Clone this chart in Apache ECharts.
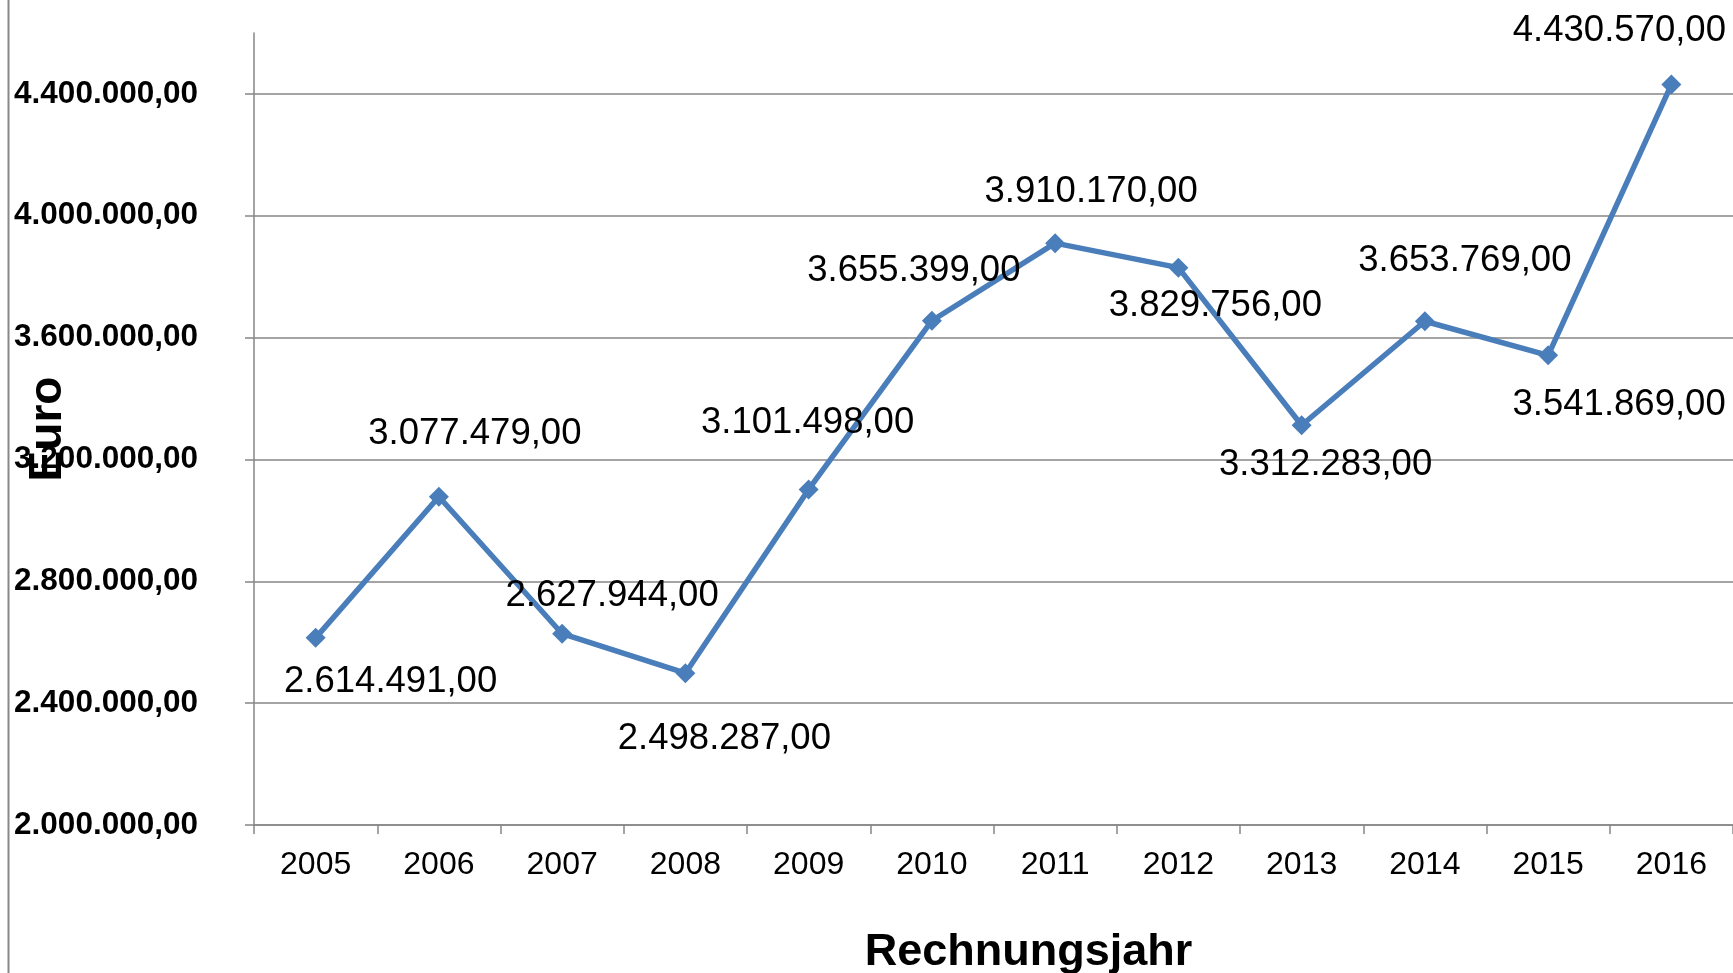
<!DOCTYPE html>
<html>
<head>
<meta charset="utf-8">
<script src="https://cdn.jsdelivr.net/npm/echarts@6/dist/echarts.min.js"></script>
<style>
html,body{margin:0;padding:0;background:#fff;}
#chart{width:1733px;height:973px;}
</style>
</head>
<body>
<div id="chart"></div>
<script>
const years = ['2005','2006','2007','2008','2009','2010','2011','2012','2013','2014','2015','2016'];
const euroValues = [2614491, 3077479, 2627944, 2498287, 3101498, 3655399, 3910170, 3829756, 3312283, 3653769, 3541869, 4430570];
const yTickValues = [2000000, 2400000, 2800000, 3200000, 3600000, 4000000, 4400000];
const labelOffsets = [[75,44],[36,-63],[50,-38],[39,66],[-1,-67],[-18,-50],[36,-51],[37,38],[24,40],[40,-60],[71,50],[-52,-54]];

function de(v){
  const s = Math.round(v).toString();
  return s.replace(/\B(?=(\d{3})+(?!\d))/g, '.') + ',00';
}

const FONT = '"Liberation Sans", Arial, sans-serif';
const GREY = '#868686';

const seriesData = euroValues.map((v, i) => ({
  value: v,
  label: { offset: labelOffsets[i] }
}));

const chart = echarts.init(document.getElementById('chart'), null, {renderer: 'canvas'});
chart.setOption({
  animation: false,
  backgroundColor: '#ffffff',
  grid: { left: 254, right: 0, top: 33, bottom: 148, containLabel: false, outerBoundsMode: 'none' },
  xAxis: {
    type: 'category',
    data: years,
    boundaryGap: true,
    axisLine: { show: true, lineStyle: { color: GREY, width: 1.5 } },
    axisTick: { show: true, alignWithLabel: false, length: 9, lineStyle: { color: GREY, width: 1.5 } },
    axisLabel: { color: '#000', fontFamily: FONT, fontSize: 32, margin: 24 },
    splitLine: { show: false },
    name: 'Rechnungsjahr',
    nameLocation: 'middle',
    nameGap: 105,
    nameMoveOverlap: false,
    nameTextStyle: { color: '#000', fontFamily: FONT, fontSize: 45, fontWeight: 'bold', padding: [0, 0, 0, 70] }
  },
  yAxis: {
    type: 'value',
    min: 2000000,
    max: 4600000,
    interval: 400000,
    axisLine: { show: true, lineStyle: { color: GREY, width: 1.5 } },
    axisTick: { show: true, length: 9, lineStyle: { color: GREY, width: 1.5 }, customValues: yTickValues },
    axisLabel: { color: '#000', fontFamily: FONT, fontSize: 31.5, fontWeight: 'bold', margin: 56, customValues: yTickValues, formatter: v => de(v) },
    splitLine: { show: true, lineStyle: { color: GREY, width: 1.5 } },
    name: 'Euro',
    nameLocation: 'middle',
    nameRotate: 90,
    nameGap: 183,
    nameMoveOverlap: false,
    nameTextStyle: { color: '#000', fontFamily: FONT, fontSize: 46, fontWeight: 'bold' }
  },
  series: [{
    type: 'line',
    data: seriesData,
    lineStyle: { color: '#4A7EBB', width: 5.5 },
    itemStyle: { color: '#4A7EBB' },
    symbol: 'diamond',
    symbolSize: 20,
    showAllSymbol: true,
    label: {
      show: true,
      position: 'inside',
      align: 'center',
      verticalAlign: 'middle',
      color: '#000',
      fontFamily: FONT,
      fontSize: 36.5,
      formatter: p => de(p.value)
    },
    z: 3
  }],
  graphic: [{
    type: 'line',
    shape: { x1: 8.5, y1: 0, x2: 8.5, y2: 973 },
    style: { stroke: '#888888', lineWidth: 2 },
    silent: true
  }]
});
</script>
</body>
</html>
